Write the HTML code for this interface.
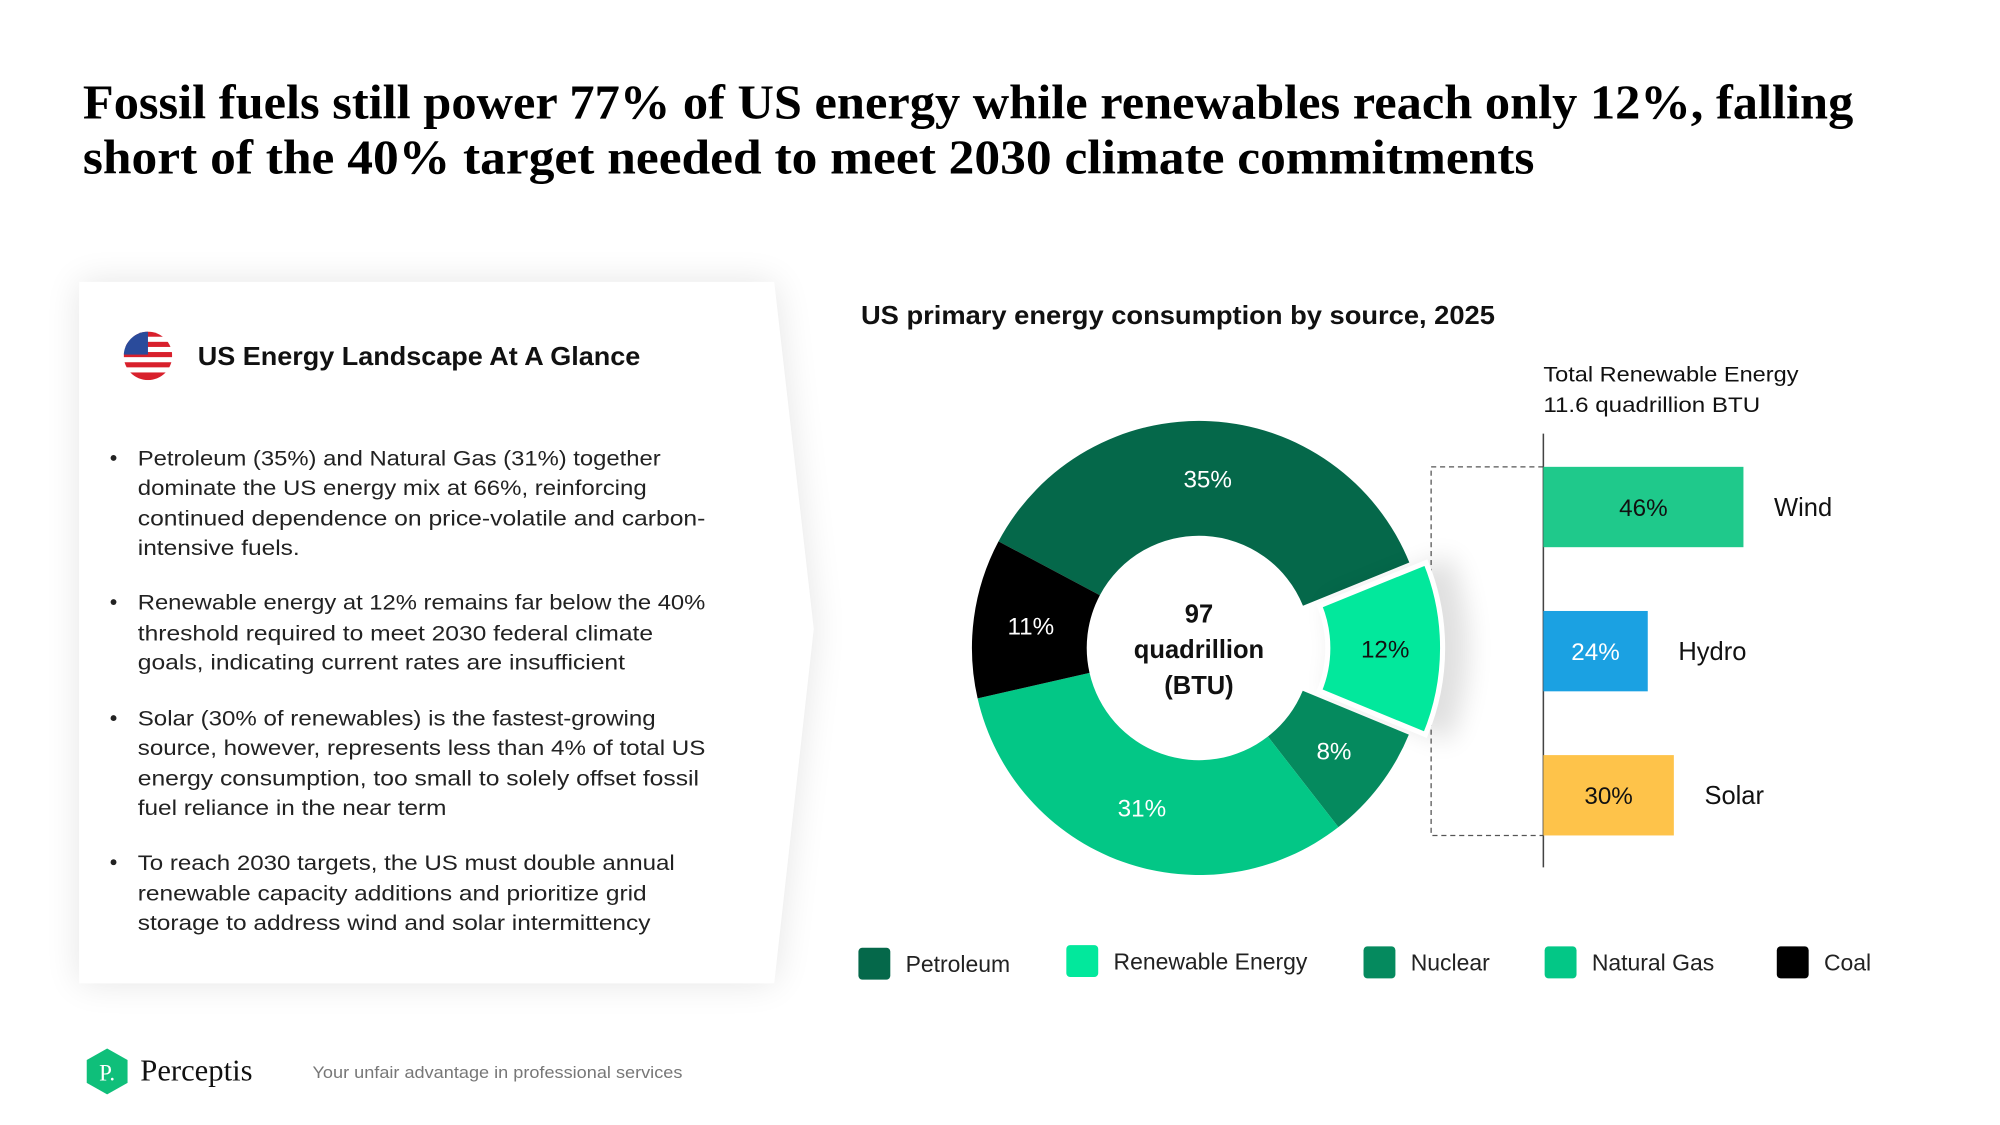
<!DOCTYPE html>
<html><head><meta charset="utf-8"><style>
html,body{margin:0;padding:0;background:#fff;}
svg{display:block;}
text{font-family:"Liberation Sans",sans-serif;}
</style></head><body>
<svg id="page" width="2000" height="1125" viewBox="0 0 1568 882" preserveAspectRatio="none" xmlns="http://www.w3.org/2000/svg">
<defs>
<filter id="sh" x="-20%" y="-20%" width="140%" height="140%"><feGaussianBlur stdDeviation="14"/></filter>
<filter id="sh2" x="-50%" y="-50%" width="200%" height="200%"><feGaussianBlur stdDeviation="10"/></filter>
<clipPath id="flagclip"><circle cx="116" cy="279" r="19"/></clipPath>
</defs>
<rect width="1568" height="882" fill="#fff"/>
<g font-weight="bold" font-size="38" fill="#000">
<text x="65" y="93" textLength="1388" lengthAdjust="spacingAndGlyphs" style="font-family:'Liberation Serif',serif">Fossil fuels still power 77% of US energy while renewables reach only 12%, falling</text>
<text x="65" y="136" textLength="1138" lengthAdjust="spacingAndGlyphs" style="font-family:'Liberation Serif',serif">short of the 40% target needed to meet 2030 climate commitments</text>
</g>
<g>
<path d="M62 221 L607 221 L638 493 L607 771 L62 771 Z" fill="#000" opacity="0.10" filter="url(#sh)"/>
<path d="M62 221 L607 221 L638 493 L607 771 L62 771 Z" fill="#fff"/>
<g clip-path="url(#flagclip)">
<rect x="97" y="260" width="38" height="38" fill="#fff"/>
<rect x="97" y="260" width="38" height="4" fill="#d8202c"/>
<rect x="97" y="268" width="38" height="4" fill="#d8202c"/>
<rect x="97" y="276" width="38" height="4" fill="#d8202c"/>
<rect x="97" y="284" width="38" height="4" fill="#d8202c"/>
<rect x="97" y="292" width="38" height="6" fill="#d8202c"/>
<rect x="97" y="260" width="19" height="18" fill="#2a4b9b"/>
</g>
<text x="155" y="286" font-size="20" font-weight="bold" fill="#111" textLength="347" lengthAdjust="spacingAndGlyphs">US Energy Landscape At A Glance</text>
<g font-size="17" fill="#222">
<g><circle cx="89" cy="359" r="2.3" fill="#222"/>
<text x="108" y="365" textLength="410" lengthAdjust="spacingAndGlyphs">Petroleum (35%) and Natural Gas (31%) together</text>
<text x="108" y="388" textLength="399" lengthAdjust="spacingAndGlyphs">dominate the US energy mix at 66%, reinforcing</text>
<text x="108" y="412" textLength="445" lengthAdjust="spacingAndGlyphs">continued dependence on price-volatile and carbon-</text>
<text x="108" y="435" textLength="127" lengthAdjust="spacingAndGlyphs">intensive fuels.</text></g>
<g><circle cx="89" cy="472" r="2.3" fill="#222"/>
<text x="108" y="478" textLength="445" lengthAdjust="spacingAndGlyphs">Renewable energy at 12% remains far below the 40%</text>
<text x="108" y="502" textLength="404" lengthAdjust="spacingAndGlyphs">threshold required to meet 2030 federal climate</text>
<text x="108" y="525" textLength="382" lengthAdjust="spacingAndGlyphs">goals, indicating current rates are insufficient</text></g>
<g><circle cx="89" cy="563" r="2.3" fill="#222"/>
<text x="108" y="569" textLength="406" lengthAdjust="spacingAndGlyphs">Solar (30% of renewables) is the fastest-growing</text>
<text x="108" y="592" textLength="445" lengthAdjust="spacingAndGlyphs">source, however, represents less than 4% of total US</text>
<text x="108" y="616" textLength="440" lengthAdjust="spacingAndGlyphs">energy consumption, too small to solely offset fossil</text>
<text x="108" y="639" textLength="242" lengthAdjust="spacingAndGlyphs">fuel reliance in the near term</text></g>
<g><circle cx="89" cy="676" r="2.3" fill="#222"/>
<text x="108" y="682" textLength="421" lengthAdjust="spacingAndGlyphs">To reach 2030 targets, the US must double annual</text>
<text x="108" y="706" textLength="399" lengthAdjust="spacingAndGlyphs">renewable capacity additions and prioritize grid</text>
<text x="108" y="729" textLength="402" lengthAdjust="spacingAndGlyphs">storage to address wind and solar intermittency</text></g>
</g>
</g>
<text x="675" y="254" font-size="20" font-weight="bold" fill="#111" textLength="497" lengthAdjust="spacingAndGlyphs">US primary energy consumption by source, 2025</text>
<g font-size="17" fill="#111">
<text x="1210" y="299" textLength="200" lengthAdjust="spacingAndGlyphs">Total Renewable Energy</text>
<text x="1210" y="323" textLength="170" lengthAdjust="spacingAndGlyphs">11.6 quadrillion BTU</text>
</g>
<g id="chart"></g>
<g id="legend"></g>
<g>
<g>
<path d="M84 822 L100 831 L100 849 L84 858 L68 849 L68 831 Z" fill="#0fbf7a"/>
<text x="84" y="847" text-anchor="middle" font-size="18" fill="#fff" style="font-family:'Liberation Serif',serif">P.</text>
<text x="110" y="847" font-size="24" fill="#111" style="font-family:'Liberation Serif',serif">Perceptis</text>
</g>
<text x="245" y="845" font-size="13" fill="#777" textLength="290" lengthAdjust="spacingAndGlyphs">Your unfair advantage in professional services</text>
</g>
</svg>
<script>
const categories = ["Petroleum","Renewable Energy","Nuclear","Natural Gas","Coal"];
const shares = [35,12,8,31,11];
const sliceColors = ["#05684a","#02e89c","#058a5e","#03c786","#000000"];
const labelColors = ["#fff","#111","#fff","#fff","#fff"];
const centerLines = ["97","quadrillion","(BTU)"];
const renewCats = ["Wind","Hydro","Solar"];
const renewShares = [46,24,30];
const renewColors = ["#1fc98b","#1ba1e2","#fec34a"];

const NS="http://www.w3.org/2000/svg";
function mk(tag,attrs,parent){const e=document.createElementNS(NS,tag);for(const k in attrs)e.setAttribute(k,attrs[k]);parent.appendChild(e);return e;}
const chart=document.getElementById('chart');
const cx=940, cy=508, R=178, r0=88, startDeg=-62, explodeIdx=1, explode=13;
const total=shares.reduce((a,b)=>a+b,0);
function angle(v){return startDeg+v/total*360;}
function pt(deg,rad,ox,oy){const a=deg*Math.PI/180;return [cx+ox+rad*Math.sin(a), cy+oy-rad*Math.cos(a)];}
function arcPath(a0,a1,ox,oy,Ro,Ri){
 const large=(a1-a0)>180?1:0;
 const p1=pt(a0,Ro,ox,oy),p2=pt(a1,Ro,ox,oy),p3=pt(a1,Ri,ox,oy),p4=pt(a0,Ri,ox,oy);
 return `M${p1[0]} ${p1[1]} A${Ro} ${Ro} 0 ${large} 1 ${p2[0]} ${p2[1]} L${p3[0]} ${p3[1]} A${Ri} ${Ri} 0 ${large} 0 ${p4[0]} ${p4[1]} Z`;
}
const barX0=1210, pxPerPct=3.41;
function barLen(v){return v*pxPerPct;}
const barTop=[366,479,592], barH=63;
const br=mk('g',{},chart);


mk('path',{d:`M1210 366 L1122 366 L1122 655 L1210 655`,fill:'none',stroke:'#555','stroke-width':1,'stroke-dasharray':'4 3'},br);
const ax=mk('line',{x1:1210,y1:340,x2:1210,y2:680,stroke:'#444','stroke-width':1.2},chart);


let cum=0;
shares.forEach((v,i)=>{
 const a0=angle(cum), a1=angle(cum+v); cum+=v;
 const mid=(a0+a1)/2; let ox=0,oy=0;
 if(i===explodeIdx){const m=mid*Math.PI/180;ox=explode*Math.sin(m);oy=-explode*Math.cos(m);
   const shd=mk('path',{d:arcPath(a0,a1,ox+6,oy,R+14,r0),fill:'#000',opacity:0.12,filter:'url(#sh2)'},chart);
   
   }
 const p=mk('path',{d:arcPath(a0,a1,ox,oy,R,r0),fill:sliceColors[i],stroke:i===explodeIdx?'#fff':'none','stroke-width':i===explodeIdx?4:0},chart);
 
 
 const lp=pt(mid,(R+r0)/2,ox,oy);
 const t=mk('text',{x:lp[0],y:lp[1]+7,'text-anchor':'middle','font-size':19,fill:labelColors[i]},chart);
 t.textContent=v+'%';
 
 
});
centerLines.forEach((s,i)=>{
 const t=mk('text',{x:cx,y:cy-20+i*28,'text-anchor':'middle','font-size':20,'font-weight':'bold',fill:'#111'},chart);
 t.textContent=s;
 
 
});
renewCats.forEach((c,i)=>{
 const w=barLen(renewShares[i]);
 const b=mk('rect',{x:barX0,y:barTop[i],width:w,height:barH,fill:renewColors[i]},chart);
 
 
 const t=mk('text',{x:barX0+w/2,y:barTop[i]+barH/2+7,'text-anchor':'middle','font-size':19,fill:i===1?'#fff':'#111'},chart);
 t.textContent=renewShares[i]+'%';
 
 
 const n=mk('text',{x:barX0+w+24,y:barTop[i]+barH/2+7,'font-size':20,fill:'#111'},chart);
 n.textContent=c;
 
 
});
const legend=document.getElementById('legend');
const legX=[673,836,1069,1211,1393];
const legY=[743,741,742,742,742];
categories.forEach((c,i)=>{
 const g=mk('g',{},legend);
 
 
 mk('rect',{x:legX[i],y:legY[i],width:25,height:25,rx:3,fill:sliceColors[i]},g);
 const t=mk('text',{x:legX[i]+37,y:legY[i]+19,'font-size':18,fill:'#222'},g);
 t.textContent=c;
});
</script>
</body></html>
